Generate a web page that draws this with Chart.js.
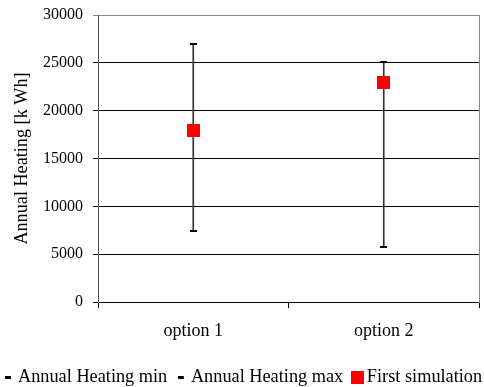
<!DOCTYPE html>
<html>
<head>
<meta charset="utf-8">
<title>Annual Heating</title>
<script src="https://cdn.jsdelivr.net/npm/chart.js@4.4.1/dist/chart.umd.min.js"></script>
<style>
  html, body { margin: 0; padding: 0; background: #fff; }
</style>
</head>
<body>
<canvas id="heatingChart" width="484" height="387"></canvas>
<script>
// Datos del gráfico
const categories = ['option 1', 'option 2'];
const heatingMin = [7400, 5700];
const heatingMax = [27000, 25100];
const firstSimulation = [17900, 22900];
const yTickValues = [0, 5000, 10000, 15000, 20000, 25000, 30000];

const FONT = "'Liberation Serif', 'Times New Roman', serif";

// Marcadores pequeños dibujados en un canvas (se usan como pointStyle)
function crearMarcador(w, h, color, x0, y0, mw, mh) {
    const c = document.createElement('canvas');
    c.width = w;
    c.height = h;
    const g = c.getContext('2d');
    g.fillStyle = color;
    g.fillRect(x0, y0, mw, mh);
    return c;
}

const capa = crearMarcador(7, 2, '#000', 0, 0, 7, 2);
const cuadroRojo = crearMarcador(13, 13, '#ff0000', 0, 0, 13, 13);
const guionLeyenda = crearMarcador(7, 3, '#000', 0, 0, 6, 3);
const marcasLeyenda = [null, guionLeyenda, guionLeyenda, cuadroRojo];

const ctx = document.getElementById('heatingChart').getContext('2d');
const heatingChart = new Chart(ctx, {
    type: 'bar',
    data: {
        labels: categories,
        datasets: [
            {
                // línea vertical entre mínimo y máximo
                label: 'range',
                data: categories.map((c, i) => [heatingMin[i], heatingMax[i]]),
                backgroundColor: '#333',
                barThickness: 1,
                order: 10
            },
            {
                type: 'line',
                label: 'Annual Heating min',
                data: heatingMin,
                showLine: false,
                pointStyle: capa,
                borderColor: '#000',
                backgroundColor: '#000',
                order: 0
            },
            {
                type: 'line',
                label: 'Annual Heating max',
                data: heatingMax,
                showLine: false,
                pointStyle: capa,
                borderColor: '#000',
                backgroundColor: '#000',
                order: 0
            },
            {
                type: 'line',
                label: 'First simulation',
                data: firstSimulation,
                showLine: false,
                pointStyle: cuadroRojo,
                borderColor: '#ff0000',
                backgroundColor: '#ff0000',
                order: 0
            }
        ]
    },
    options: {
        responsive: false,
        animation: false,
        layout: {
            padding: { top: 0, right: -13, left: -7, bottom: -9.15 }
        },
        plugins: {
            tooltip: { enabled: false },
            legend: {
                position: 'bottom',
                labels: {
                    usePointStyle: true,
                    pointStyleWidth: 1,
                    padding: 13.5,
                    color: '#000',
                    font: { family: FONT, size: 18.3 },
                    generateLabels(chart) {
                        const items = Chart.defaults.plugins.legend.labels.generateLabels(chart);
                        return items
                            .filter(item => item.datasetIndex !== 0)
                            .map(item => {
                                item.pointStyle = marcasLeyenda[item.datasetIndex];
                                return item;
                            });
                    }
                }
            }
        },
        scales: {
            x: {
                offset: true,
                grid: {
                    offset: true,
                    drawOnChartArea: false,
                    tickLength: 6,
                    color: '#000'
                },
                border: { color: '#000' },
                ticks: {
                    color: '#000',
                    padding: 12,
                    font: { family: FONT, size: 18 }
                },
                afterFit(scale) {
                    scale.height = 52.35;
                }
            },
            y: {
                min: 0,
                max: 30000,
                afterBuildTicks(scale) {
                    scale.ticks = yTickValues.map(v => ({ value: v }));
                },
                ticks: {
                    color: '#000',
                    padding: 10,
                    font: { family: FONT, size: 16, lineHeight: 0.625 },
                    callback: v => String(v)
                },
                grid: {
                    tickLength: 5,
                    color: c => (c.tick && c.tick.value === 30000 ? '#888' : '#000')
                },
                border: { color: '#555' },
                title: {
                    display: true,
                    text: 'Annual Heating [k Wh]',
                    color: '#000',
                    padding: { top: 18.2, bottom: 0 },
                    font: { family: FONT, size: 18.2 }
                },
                afterFit(scale) {
                    scale.width = 105;
                }
            },
            // eje derecho sin marcas: solo el borde gris del área
            yDerecho: {
                position: 'right',
                min: 0,
                max: 30000,
                ticks: { display: false },
                grid: { display: false },
                border: { color: '#888' },
                afterFit(scale) {
                    scale.width = 16;
                }
            }
        }
    }
});
</script>
</body>
</html>
